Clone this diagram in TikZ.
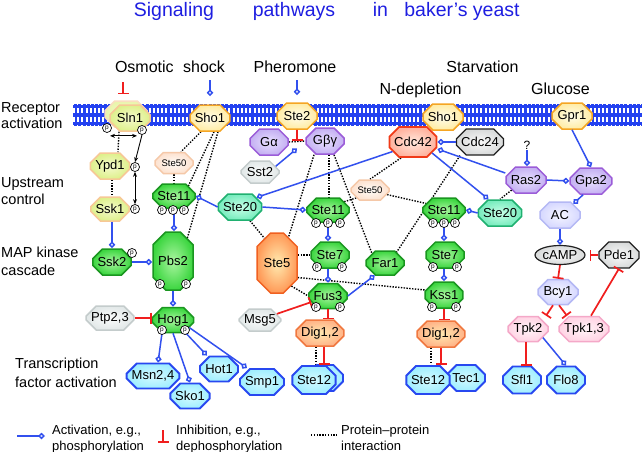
\documentclass[tikz,border=0pt]{standalone}
\usepackage{fontspec}
\setmainfont{Liberation Sans}
\usetikzlibrary{shapes.misc,shapes.geometric,arrows.meta,calc}
\definecolor{actblue}{RGB}{50,80,238}
\definecolor{inhred}{RGB}{240,30,30}
\definecolor{titleblue}{RGB}{30,30,225}
\definecolor{membr}{RGB}{35,65,240}
\definecolor{recB}{RGB}{245,165,35}  \definecolor{recI}{RGB}{255,253,235} \definecolor{recO}{RGB}{255,236,165}
\definecolor{ygB}{RGB}{247,200,150}  \definecolor{ygI}{RGB}{245,250,205} \definecolor{ygO}{RGB}{222,240,140}
\definecolor{puB}{RGB}{155,92,216}   \definecolor{puI}{RGB}{232,224,255} \definecolor{puO}{RGB}{196,176,242}
\definecolor{rdB}{RGB}{240,58,24}    \definecolor{rdI}{RGB}{255,232,220} \definecolor{rdO}{RGB}{255,178,158}
\definecolor{dgB}{RGB}{32,32,32}     \definecolor{dgI}{RGB}{250,250,250} \definecolor{dgO}{RGB}{216,218,218}
\definecolor{lgB}{RGB}{196,204,204}  \definecolor{lgI}{RGB}{250,252,252} \definecolor{lgO}{RGB}{226,232,232}
\definecolor{sfB}{RGB}{245,200,168}  \definecolor{sfI}{RGB}{255,252,248} \definecolor{sfO}{RGB}{253,226,208}
\definecolor{grB}{RGB}{26,150,32}    \definecolor{grI}{RGB}{170,245,160} \definecolor{grO}{RGB}{60,214,64}
\definecolor{stB}{RGB}{32,176,112}   \definecolor{stI}{RGB}{200,255,232} \definecolor{stO}{RGB}{120,236,190}
\definecolor{sxB}{RGB}{240,96,32}    \definecolor{sxI}{RGB}{255,235,176} \definecolor{sxO}{RGB}{255,154,88}
\definecolor{diB}{RGB}{240,120,64}   \definecolor{diI}{RGB}{255,232,176} \definecolor{diO}{RGB}{255,180,136}
\definecolor{lvB}{RGB}{180,184,244}  \definecolor{lvI}{RGB}{246,246,255} \definecolor{lvO}{RGB}{214,216,255}
\definecolor{pkB}{RGB}{244,168,200}  \definecolor{pkI}{RGB}{255,244,248} \definecolor{pkO}{RGB}{255,212,228}
\definecolor{tfB}{RGB}{40,72,240}    \definecolor{tfI}{RGB}{212,250,255} \definecolor{tfO}{RGB}{160,238,255}
\pgfdeclarelayer{bg}
\pgfsetlayers{bg,main}
\tikzset{
  prot/.style={chamfered rectangle, chamfered rectangle xsep=5pt, chamfered rectangle ysep=5pt,
    inner sep=0pt, line width=1.5pt, font=\fontsize{13}{15}\selectfont, minimum width=38pt, minimum height=26pt},
  recp/.style={prot,draw=recB,inner color=recI,outer color=recO},
  ygr/.style={prot,draw=ygB,inner color=ygI,outer color=ygO},
  purp/.style={prot,draw=puB,inner color=puI,outer color=puO},
  redp/.style={prot,draw=rdB,inner color=rdI,outer color=rdO,line width=1.8pt},
  dgry/.style={prot,draw=dgB,inner color=dgI,outer color=dgO,line width=1.2pt},
  lgry/.style={prot,draw=lgB,inner color=lgI,outer color=lgO},
  sfif/.style={prot,draw=sfB,inner color=sfI,outer color=sfO,font=\fontsize{9.5}{11}\selectfont,minimum height=21pt},
  kin/.style={prot,draw=grB,inner color=grI,outer color=grO},
  stw/.style={prot,draw=stB,inner color=stI,outer color=stO},
  sfv/.style={prot,draw=sxB,inner color=sxI,outer color=sxO,chamfered rectangle xsep=9pt,chamfered rectangle ysep=9pt},
  dig/.style={prot,draw=diB,inner color=diI,outer color=diO},
  lav/.style={prot,draw=lvB,inner color=lvI,outer color=lvO},
  pnk/.style={prot,draw=pkB,inner color=pkI,outer color=pkO},
  tf/.style={prot,draw=tfB,inner color=tfI,outer color=tfO,line width=1.9pt},
  pc/.style={circle,draw=black,fill=white,line width=0.7pt,minimum size=9pt,inner sep=0pt,font=\fontsize{6.5}{6.5}\selectfont},
  act/.style={draw=actblue,line width=1.5pt,-{Diamond[length=7pt,width=6.5pt,fill=white]}},
  inh/.style={draw=inhred,line width=1.7pt,-{Bar[width=11pt]}},
  ppi/.style={draw=black,line width=1.4pt,dash pattern=on 1.4pt off 1.4pt},
  relay/.style={draw=black,line width=0.9pt},
  lab/.style={font=\fontsize{14.5}{17}\selectfont,anchor=base west,inner sep=0pt},
  stim/.style={font=\fontsize{16}{19}\selectfont,anchor=base,inner sep=0pt},
  ttl/.style={font=\fontsize{19.5}{22}\selectfont,text=titleblue,anchor=base,inner sep=0pt},
  leg/.style={font=\fontsize{13}{15}\selectfont,anchor=base west,inner sep=0pt}
}
\begin{document}
\begin{tikzpicture}[x=1pt,y=-1pt]
\useasboundingbox (0,0) rectangle (642,452);
\begin{pgfonlayer}{bg}
\fill[white] (0,0) rectangle (642,452);
\fill[membr] (73,104) rectangle (642,126);
\draw[white,line width=5pt,dash pattern=on 2pt off 2.2pt] (73,110.5) -- (642,110.5);
\draw[white,line width=5pt,dash pattern=on 2pt off 2.2pt] (73,119.5) -- (642,119.5);
\draw[white,line width=1.2pt,dash pattern=on 1.2pt off 3pt] (73,104.3) -- (642,104.3);
\draw[white,line width=1.2pt,dash pattern=on 1.2pt off 3pt] (73,125.7) -- (642,125.7);
\end{pgfonlayer}

% title and headings
\node[ttl] (t1) at (174,17) {Signaling};
\node[ttl] (t2) at (294,17) {pathways};
\node[ttl] (t3) at (380.5,17) {in};
\node[ttl] (t4) at (462,17) {baker's yeast};
\node[stim] (h1) at (170,72) {Osmotic\hspace{5pt} shock};
\node[stim] (h2) at (295,72) {Pheromone};
\node[stim] (h3) at (482.5,72) {Starvation};
\node[stim] (h4) at (420.5,94) {N-depletion};
\node[stim] (h5) at (560.5,94) {Glucose};
\node[lab] (l1a) at (1,112) {Receptor};
\node[lab] (l1b) at (1,128) {activation};
\node[lab] (l2a) at (1,187) {Upstream};
\node[lab] (l2b) at (1,204) {control};
\node[lab] (l3a) at (1,257) {MAP kinase};
\node[lab] (l3b) at (1,275) {cascade};
\node[lab] (l4a) at (15,368) {Transcription};
\node[lab] (l4b) at (15,387) {factor activation};

% proteins
\node[recp] (sho1a) at (210,118) {Sho1};
\node[recp,minimum width=40pt] (ste2) at (297,116) {Ste2};
\node[recp,minimum width=40pt] (sho1b) at (443,117) {Sho1};
\node[recp,minimum width=40pt] (gpr1) at (572,116) {Gpr1};
\node[ygr,minimum width=42pt,draw=ygB!60,inner color=ygI,outer color=ygI!50!ygO] (sln1bk) at (126,114) {\phantom{Sln1}};
\node[ygr,minimum width=40pt] (sln1) at (130,118) {Sln1};
\node[ygr,minimum width=36pt] (ypd1) at (110,166) {Ypd1};
\node[ygr,minimum width=36pt,minimum height=24pt] (ssk1) at (110,209) {Ssk1};
\node[purp] (galpha) at (269,142) {Gα};
\node[purp] (gbg) at (325,141) {Gβγ};
\node[redp,minimum width=44pt,minimum height=30pt] (cdc42) at (413,142) {Cdc42};
\node[dgry,minimum width=44pt] (cdc24) at (480,142) {Cdc24};
\node[lgry,minimum height=22pt] (sst2) at (260,172) {Sst2};
\node[sfif] (ste50a) at (174,163) {Ste50};
\node[sfif,minimum height=20pt] (ste50b) at (370,190) {Ste50};
\node[purp,minimum width=40pt] (ras2) at (526,180) {Ras2};
\node[purp,minimum width=40pt] (gpa2) at (591,181) {Gpa2};
\node[font=\fontsize{12}{14}\selectfont,inner sep=1pt] (qm) at (527,145) {?};
\node[kin,minimum height=24pt] (ste11a) at (174,196) {Ste11};
\node[stw] (ste20a) at (240,207) {Ste20};
\node[kin,minimum height=24pt] (ste11b) at (328,210) {Ste11};
\node[kin,minimum height=24pt] (ste11c) at (444,210) {Ste11};
\node[stw] (ste20b) at (500,213) {Ste20};
\node[lav,minimum width=40pt] (ac) at (560,215) {AC};
\node[kin] (ssk2) at (112,262) {Ssk2};
\node[kin,minimum width=40pt,minimum height=58pt,chamfered rectangle xsep=8pt,chamfered rectangle ysep=8pt] (pbs2) at (173,261) {Pbs2};
\node[kin,minimum width=40pt,minimum height=25pt] (hog1) at (173,320) {Hog1};
\node[lgry,minimum width=40pt,minimum height=24pt] (ptp) at (110,318) {Ptp2,3};
\node[sfv,minimum width=40pt,minimum height=60pt] (ste5) at (277,263) {Ste5};
\node[kin] (ste7a) at (330,255) {Ste7};
\node[kin,minimum height=25pt] (fus3) at (328,296) {Fus3};
\node[kin,minimum height=24pt] (far1) at (385,263) {Far1};
\node[lgry,minimum height=22pt] (msg5) at (260,320) {Msg5};
\node[kin] (ste7b) at (445,255) {Ste7};
\node[kin,minimum width=36pt] (kss1) at (444,295) {Kss1};
\node[dig,minimum width=44pt] (dig1) at (320,333) {Dig1,2};
\node[dig,minimum width=44pt] (dig2) at (441,334) {Dig1,2};
\node[ellipse,draw=dgB,line width=1.2pt,inner color=dgI,outer color=dgO,minimum width=50pt,minimum height=19pt,inner sep=0pt,font=\fontsize{13}{15}\selectfont] (camp) at (560,255) {cAMP};
\node[dgry,minimum width=38pt] (pde1) at (619,255) {Pde1};
\node[lav,minimum width=40pt,minimum height=25pt] (bcy1) at (558,292) {Bcy1};
\node[pnk,minimum width=40pt,minimum height=25pt] (tpk2) at (528,329) {Tpk2};
\node[pnk,minimum width=42pt,minimum height=25pt] (tpk13) at (584,329) {Tpk1,3};
\node[tf,minimum width=44pt,minimum height=25pt] (msn) at (153,376) {Msn2,4};
\node[tf,minimum width=36pt,minimum height=25pt] (sko1) at (190,396) {Sko1};
\node[tf,minimum height=25pt] (hot1) at (219,369) {Hot1};
\node[tf,minimum width=40pt] (smp1) at (262,382) {Smp1};
\node[tf,minimum width=36pt] (ste12bk) at (325,378) {\phantom{Ste1}};
\node[tf,minimum width=38pt,minimum height=28pt] (ste12a) at (314,380) {Ste12};
\node[tf,minimum width=38pt,minimum height=26pt] (tec1) at (466,378) {Tec1};
\node[tf,minimum width=40pt,minimum height=28pt] (ste12b) at (428,380) {Ste12};
\node[tf,minimum height=27pt] (sfl1) at (522,380) {Sfl1};
\node[tf,minimum height=27pt] (flo8) at (566,380) {Flo8};

% protein-protein interactions (behind)
\begin{pgfonlayer}{bg}
\draw[ppi] (galpha.east) -- (gbg.west);
\draw[ppi] ([xshift=-11pt]sln1.south) -- ([xshift=8pt]ypd1.north);
\draw[ppi] ([xshift=2pt]ypd1.south) -- ([xshift=2pt]ssk1.north);
\draw[ppi] ([xshift=-9pt]sho1a.south) -- ([xshift=7pt]ste50a.north);
\draw[ppi] (ste50a.south) -- (ste11a.north);
\draw[ppi] ([xshift=4pt]sho1a.south) -- (ste11a.35);
\draw[ppi] ([xshift=8pt]sho1a.south) -- (pbs2.58);
\draw[ppi] ([xshift=-11pt]gbg.south) -- (ste5.66);
\draw[ppi] ([xshift=10pt]ste20a.south) -- (ste5.117);
\draw[ppi] ([xshift=4pt]gbg.south) -- ([xshift=1pt]ste11b.north);
\draw[ppi] ([xshift=9pt]gbg.south) -- (far1.144);
\draw[ppi] ([xshift=-12pt]cdc42.south) -- (ste50b.north);
\draw[ppi] (ste50b.210) -- (ste11b.27);
\draw[ppi] (ste50b.345) -- (ste11c.160);
\draw[ppi] ([xshift=-20pt]cdc24.south) -- (far1.43);
\draw[ppi] (ras2.215) -- (ste20b.north);
\draw[ppi] (ste5.east |- ste7a.west) -- (ste7a.west);
\draw[ppi] (ste5.302) -- (fus3.west);
\draw[ppi] (ste5.325) -- (kss1.165);
\draw[ppi] ([xshift=-4pt]dig1.south) -- ([xshift=-4pt]dig1.south |- ste12a.north);
\draw[ppi] ([xshift=-10pt]dig2.south) -- ([xshift=-10pt]dig2.south |- ste12b.north);
\end{pgfonlayer}

% stimuli
\coordinate (osm) at (123,82);
\draw[inh] (osm) -- ([xshift=-3pt,yshift=6pt]sln1bk.north);
\coordinate (shk) at (210,80);
\draw[act] (shk) -- ([yshift=8pt]sho1a.north);
\coordinate (phe) at (297,80);
\draw[act] (phe) -- ([yshift=7pt]ste2.north);

% activations
\coordinate (gab) at ($(galpha.east)!0.5!(gbg.west)$);
\draw[inh] (ste2.south) -- ([yshift=1pt]gab);
\draw[act] (sst2.20) -- ([yshift=-7pt]gab);
\draw[act] (cdc42.205) -- (ste20a.30);
\draw[act] (ste20a.west) -- (ste11a.east);
\draw[act] (ste20a.east) -- (ste11b.west);
\draw[act] (ste11b.south) -- (ste11b.south |- ste7a.north);
\draw[act] (fus3.north |- ste7a.south) -- (fus3.north);
\draw[act] (fus3.east) -- (far1.230);
\draw[act] (cdc24.west) -- (cdc42.east);
\draw[act] ([yshift=7pt]ras2.west) -- ([yshift=-7pt]cdc42.east);
\draw[act] (cdc42.330) -- (ste20b.130);
\draw[act] (ste20b.west) -- (ste11c.east);
\draw[act] (ste11c.south) -- (ste11c.south |- ste7b.north);
\draw[act] (kss1.north |- ste7b.south) -- (kss1.north);
\draw[act] (qm.south) -- (qm.south |- ras2.north);
\draw[act] (ras2.east) -- (gpa2.west);
\draw[act] (gpr1.south) -- (gpa2.north);
\draw[act] (gpa2.240) -- (ac.40);
\draw[act] (ac.south) -- (camp.north);
\draw[act] (tpk2.330) -- (flo8.north);
\draw[act] (ssk2.north |- ssk1.south) -- (ssk2.north);
\draw[act] (ssk2.east) -- (ssk2.east -| pbs2.west);
\draw[act] (ste11a.south) -- (ste11a.south |- pbs2.north);
\draw[act] (pbs2.south) -- (hog1.north);
\draw[act] ([xshift=-11pt]hog1.south) -- ([xshift=5pt]msn.north);
\draw[act] (hog1.south) -- (sko1.north);
\draw[act] ([xshift=13pt]hog1.south) -- ([xshift=-12pt]hot1.north);
\draw[act] (hog1.335) -- ([xshift=-15pt]smp1.north);

% inhibitions
\draw[inh] (ptp.east) -- (ptp.east -| hog1.west);
\draw[inh] (msg5.20) -- (fus3.200);
\draw[inh] (fus3.south) -- (fus3.south |- dig1.north);
\draw[inh] (kss1.south) -- (kss1.south |- dig2.north);
\draw[inh] ([xshift=4pt]dig1.south) -- ([xshift=4pt]dig1.south |- ste12a.north);
\draw[inh] (dig2.south) -- (dig2.south |- ste12b.north);
\draw[inh] (pde1.west) -- ([xshift=4pt]camp.east);
\draw[inh] (camp.south) -- (bcy1.north);
\draw[inh] ([xshift=-5pt]bcy1.south) -- ([xshift=18pt]tpk2.north);
\draw[inh] ([xshift=1pt]bcy1.south) -- ([xshift=-17pt]tpk13.north);
\draw[inh] ([xshift=7pt]tpk13.north) -- (pde1.south);
\draw[inh] ([xshift=-2pt]tpk2.south) -- ([xshift=-2pt]tpk2.south |- sfl1.north);

% phosphate groups
\node[pc] (slp1) at (107,128) {p};
\node[pc] (slp2) at (142,130) {p};
\node[pc] (ydp) at (135,167) {p};
\node[pc] (skp) at (135,209) {p};
\node[pc] (sa1) at (162,210) {p};
\node[pc] (sa2) at (173,210) {p};
\node[pc] (sa3) at (184,210) {p};
\node[pc] (s2p) at (132,253) {p};
\node[pc] (pb1) at (160,284) {p};
\node[pc] (pb2) at (186,284) {p};
\node[pc] (hg1) at (162,330) {p};
\node[pc] (hg2) at (185,330) {p};
\node[pc] (sb1) at (316,223) {p};
\node[pc] (sb2) at (328,223) {p};
\node[pc] (sb3) at (340,223) {p};
\node[pc] (s7a1) at (317,267) {p};
\node[pc] (s7a2) at (342,267) {p};
\node[pc] (f31) at (316,307) {p};
\node[pc] (f32) at (340,307) {p};
\node[pc] (sc1) at (433,223) {p};
\node[pc] (sc2) at (444,223) {p};
\node[pc] (sc3) at (455,223) {p};
\node[pc] (s7b1) at (433,267) {p};
\node[pc] (s7b2) at (457,267) {p};
\node[pc] (ks1) at (432,307) {p};
\node[pc] (ks2) at (456,307) {p};

% phosphorelay
\draw[relay,{Stealth[length=5pt,width=4pt]}-{Stealth[length=5pt,width=4pt]}] ([xshift=3pt,yshift=-3pt]slp1.south) -- ([xshift=-5pt,yshift=-1pt]slp2.south);
\draw[relay,-{Stealth[length=5pt,width=4pt]}] (slp2.south) -- (ydp.north);
\draw[relay,{Stealth[length=5pt,width=4pt]}-{Stealth[length=5pt,width=4pt]}] (ydp.south) -- (skp.north);

% legend
\coordinate (la1) at (17,436); \coordinate (la2) at (45,436);
\draw[act] (la1) -- (la2);
\node[leg] (legA1) at (52,434) {Activation, e.g.,};
\node[leg] (legA2) at (52,450) {phosphorylation};
\coordinate (li1) at (163,430); \coordinate (li2) at (163,443);
\draw[inh] (li1) -- (li2);
\node[leg] (legI1) at (176,434) {Inhibition, e.g.,};
\node[leg] (legI2) at (176,450) {dephosphorylation};
\coordinate (lp1) at (311,435); \coordinate (lp2) at (337,435);
\draw[ppi] (lp1) -- (lp2);
\node[leg] (legP1) at (341,434) {Protein–protein};
\node[leg] (legP2) at (341,450) {interaction};
\end{tikzpicture}
\end{document}
